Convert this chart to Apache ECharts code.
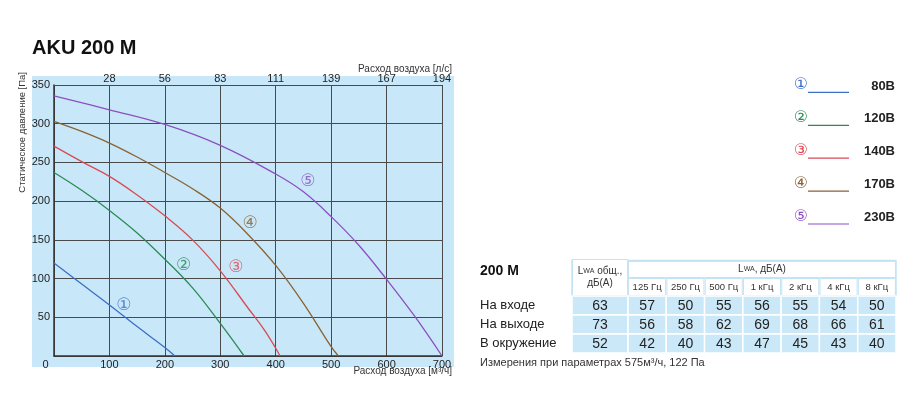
<!DOCTYPE html>
<html>
<head>
<meta charset="utf-8">
<script src="https://cdn.jsdelivr.net/npm/echarts@6/dist/echarts.min.js"></script>
<style>
html,body{margin:0;padding:0;background:#fff;}
#chart{width:900px;height:403px;}
</style>
</head>
<body>
<div id="chart"></div>
<script>
// ---------- data ----------
const seriesNames = ['80В', '120В', '140В', '170В', '230В'];
const circled = ['①', '②', '③', '④', '⑤'];
const curve80  = [[0,120],[50,93],[100,66],[150,38],[200,11],[218,0]];
const curve120 = [[0,237],[50,214],[100,188],[150,159],[200,125],[250,88],[300,42],[343,0]];
const curve140 = [[0,271],[50,251],[100,232],[150,208],[200,181],[250,150],[300,110],[350,62],[380,33],[408,0]];
const curve170 = [[0,303],[50,290],[100,275],[150,257],[200,237],[250,216],[300,191],[350,157],[400,117],[450,68],[500,12],[513,0]];
const curve230 = [[0,336],[100,318],[200,299],[300,272],[400,235],[450,212],[500,180],[550,143],[600,99],[650,52],[700,0]];
const curveLabelPos = [[126,65],[234,117],[328,114],[354,171],[458,225]];
const topTickLabels = ['28','56','83','111','139','167','194']; // l/s for 100..700 m3/h

const tableRows = ['На входе', 'На выходе', 'В окружение'];
const freqBands = ['125 Гц', '250 Гц', '500 Гц', '1 кГц', '2 кГц', '4 кГц', '8 кГц'];
const totalLwa = [63, 73, 52];
const inletLwa   = [57, 50, 55, 56, 55, 54, 50];
const outletLwa  = [56, 58, 62, 69, 68, 66, 61];
const ambientLwa = [42, 40, 43, 47, 45, 43, 40];

// ---------- style ----------
const colors = ['#3b6fc4', '#2b8a55', '#d94a54', '#8a6232', '#8c4fc2'];
const FONT = "'Liberation Sans', Arial, sans-serif";
const CFONT = "'DejaVu Sans', 'Noto Sans CJK SC', sans-serif";
const gridColor = '#4a4a4a';
const cellBlue = '#cbe8f8';
const headBorder = '#c4e3f4';

const curves = [curve80, curve120, curve140, curve170, curve230];

const chart = echarts.init(document.getElementById('chart'), null, {renderer: 'canvas'});

const lineSeries = curves.map((d, i) => ({
  name: seriesNames[i], type: 'line', data: d, xAxisIndex: 0, yAxisIndex: 0,
  showSymbol: false, smooth: 0.4,
  lineStyle: {color: colors[i], width: 1.3}, itemStyle: {color: colors[i]},
  silent: true, z: 3
}));

const labelSeries = {
  type: 'scatter', xAxisIndex: 0, yAxisIndex: 0, symbolSize: 0, silent: true, z: 4,
  data: curveLabelPos.map((p, i) => ({
    value: [p[0], p[1]],
    label: {show: true, position: 'inside', formatter: circled[i], color: colors[i],
            fontSize: 17, fontFamily: CFONT}
  }))
};

function cellData(rowsValues) {
  const out = [];
  rowsValues.forEach((vals, r) => vals.forEach((v, c) => out.push([c, r, v])));
  return out;
}
function renderCell(params, api) {
  const c = api.coord([api.value(0), api.value(1)]);
  const s = api.size([1, 1]);
  return {
    type: 'group',
    children: [
      {type: 'rect', shape: {x: c[0] - s[0] / 2, y: c[1] - s[1] / 2, width: s[0], height: s[1]},
       style: {fill: cellBlue, stroke: '#ffffff', lineWidth: 1.5}},
      {type: 'text', x: c[0], y: c[1] + 0.5,
       style: {text: String(api.value(2)), align: 'center', verticalAlign: 'middle',
               fontSize: 14, fill: '#222', fontFamily: FONT}}
    ]
  };
}

const legendRich = {v: {width: 46, align: 'right', fontWeight: 'bold', fontSize: 13, color: '#222', fontFamily: FONT, lineHeight: 14}};
colors.forEach((c, i) => {
  legendRich['c' + i] = {color: c, fontSize: 16, fontFamily: CFONT, verticalAlign: 'bottom', lineHeight: 14};
  legendRich['l' + i] = {width: 41, height: 1.2, backgroundColor: c, verticalAlign: 'bottom'};
});

const headRich = {
  a: {fontSize: 10, color: '#333', fontFamily: FONT},
  b: {fontSize: 7, color: '#333', fontFamily: FONT}
};

const option = {
  backgroundColor: '#ffffff',
  animation: false,
  title: [
    {text: 'AKU 200 M', left: 32, top: 38, padding: 0,
     textStyle: {fontSize: 20, fontWeight: 'bold', color: '#111', fontFamily: FONT}},
    {text: '200 M', left: 480, top: 264, padding: 0,
     textStyle: {fontSize: 14, fontWeight: 'bold', color: '#111', fontFamily: FONT}},
    {text: 'Измерения при параметрах 575м³/ч, 122 Па', left: 480, top: 357, padding: 0,
     textStyle: {fontSize: 11, fontWeight: 'normal', color: '#333', fontFamily: FONT}},
    {text: 'Расход воздуха [л/с]', right: 448, top: 64, padding: 0,
     textStyle: {fontSize: 10, fontWeight: 'normal', color: '#333', fontFamily: FONT}},
    {text: 'Расход воздуха [м³/ч]', right: 448, top: 366, padding: 0,
     textStyle: {fontSize: 10, fontWeight: 'normal', color: '#333', fontFamily: FONT}}
  ],
  legend: {
    orient: 'vertical', right: 5, top: 77, padding: 0, itemGap: 11.5,
    icon: 'none', itemWidth: 1, itemHeight: 1, selectedMode: false,
    data: seriesNames,
    formatter: function (name) {
      const i = seriesNames.indexOf(name);
      return '{c' + i + '|' + circled[i] + '}{l' + i + '|}{v|' + name + '}';
    },
    textStyle: {rich: legendRich}
  },
  graphic: [
    {type: 'rect', z: -10, shape: {x: 32, y: 76, width: 422, height: 291}, style: {fill: '#c8e8f9'}},
    {type: 'text', x: 22, y: 72, rotation: Math.PI / 2, z: 5,
     style: {text: 'Статическое давление [Па]', align: 'right', verticalAlign: 'middle',
             fontSize: 9.5, fill: '#333', fontFamily: FONT}},
    {type: 'rect', z: -5, shape: {x: 572, y: 260.5, width: 324, height: 35},
     style: {fill: '#ffffff', stroke: headBorder, lineWidth: 1.5}}
  ],
  grid: [
    {left: 54, top: 85, width: 388, height: 271},
    {left: 572, top: 296, width: 56, height: 57},
    {left: 628, top: 296, width: 268, height: 57}
  ],
  xAxis: [
    { // 0: m3/h bottom
      type: 'value', gridIndex: 0, min: 0, max: 700, interval: 100, position: 'bottom',
      axisLine: {show: true, lineStyle: {color: '#333', width: 1.5}},
      axisTick: {show: false},
      axisLabel: {margin: 3, fontSize: 11, color: '#222', fontFamily: FONT,
        formatter: v => v === 0 ? '{z|0}' : String(v),
        rich: {z: {fontSize: 11, color: '#222', fontFamily: FONT, padding: [0, 17, 0, 0]}}},
      splitLine: {show: true, lineStyle: {color: gridColor, width: 1}}
    },
    { // 1: l/s top
      type: 'value', gridIndex: 0, min: 0, max: 700, interval: 100, position: 'top',
      axisLine: {show: true, lineStyle: {color: gridColor, width: 1}},
      axisTick: {show: false},
      axisLabel: {margin: 1, fontSize: 11, color: '#222', fontFamily: FONT,
        formatter: v => v === 0 ? '' : topTickLabels[Math.round(v / 100) - 1]},
      splitLine: {show: false}
    },
    { // 2: frequency header
      type: 'category', gridIndex: 2, position: 'top', data: freqBands,
      axisLine: {show: false}, axisTick: {show: false}, splitLine: {show: false},
      axisLabel: {interval: 0, margin: 1, width: 36, height: 16, lineHeight: 16, align: 'center',
        backgroundColor: '#ffffff', borderColor: headBorder, borderWidth: 1,
        fontSize: 9.5, color: '#333', fontFamily: FONT}
    },
    { // 3: spanning header
      type: 'category', gridIndex: 2, position: 'top', offset: 18, data: ['Lwa'],
      axisLine: {show: false}, axisTick: {show: false}, splitLine: {show: false},
      axisLabel: {interval: 0, margin: 1, width: 266, height: 15, lineHeight: 15, align: 'center',
        backgroundColor: '#ffffff', borderColor: headBorder, borderWidth: 1,
        formatter: () => '{a|L}{b|WA}{a|, дБ(А)}', rich: headRich}
    },
    { // 4: total header
      type: 'category', gridIndex: 1, position: 'top', data: ['Lwa общ.'],
      axisLine: {show: false}, axisTick: {show: false}, splitLine: {show: false},
      axisLabel: {interval: 0, margin: 1, width: 54, align: 'center', padding: [5, 0, 6, 0], lineHeight: 12,
        backgroundColor: '#ffffff', borderColor: headBorder, borderWidth: 1,
        formatter: () => '{a|L}{b|WA}{a| общ.,}\n{a|дБ(А)}', rich: headRich}
    }
  ],
  yAxis: [
    {
      type: 'value', gridIndex: 0, min: 0, max: 350, interval: 50,
      axisLine: {show: true, lineStyle: {color: '#333', width: 1.5}},
      axisTick: {show: false},
      axisLabel: {margin: 4, fontSize: 11, color: '#222', fontFamily: FONT,
        formatter: v => v === 0 ? '' : String(v)},
      splitLine: {show: true, lineStyle: {color: gridColor, width: 1}}
    },
    {
      type: 'category', gridIndex: 1, data: tableRows, inverse: true,
      axisLine: {show: false}, axisTick: {show: false}, splitLine: {show: false},
      axisLabel: {margin: 92, align: 'left', fontSize: 13, color: '#222', fontFamily: FONT}
    },
    {
      type: 'category', gridIndex: 2, data: tableRows, inverse: true,
      axisLine: {show: false}, axisTick: {show: false}, splitLine: {show: false},
      axisLabel: {show: false}
    }
  ],
  series: lineSeries.concat([
    labelSeries,
    {type: 'custom', xAxisIndex: 4, yAxisIndex: 1, silent: true,
     data: totalLwa.map((v, r) => [0, r, v]), renderItem: renderCell},
    {type: 'custom', xAxisIndex: 2, yAxisIndex: 2, silent: true,
     data: cellData([inletLwa, outletLwa, ambientLwa]), renderItem: renderCell}
  ])
};
chart.setOption(option);
</script>
</body>
</html>
